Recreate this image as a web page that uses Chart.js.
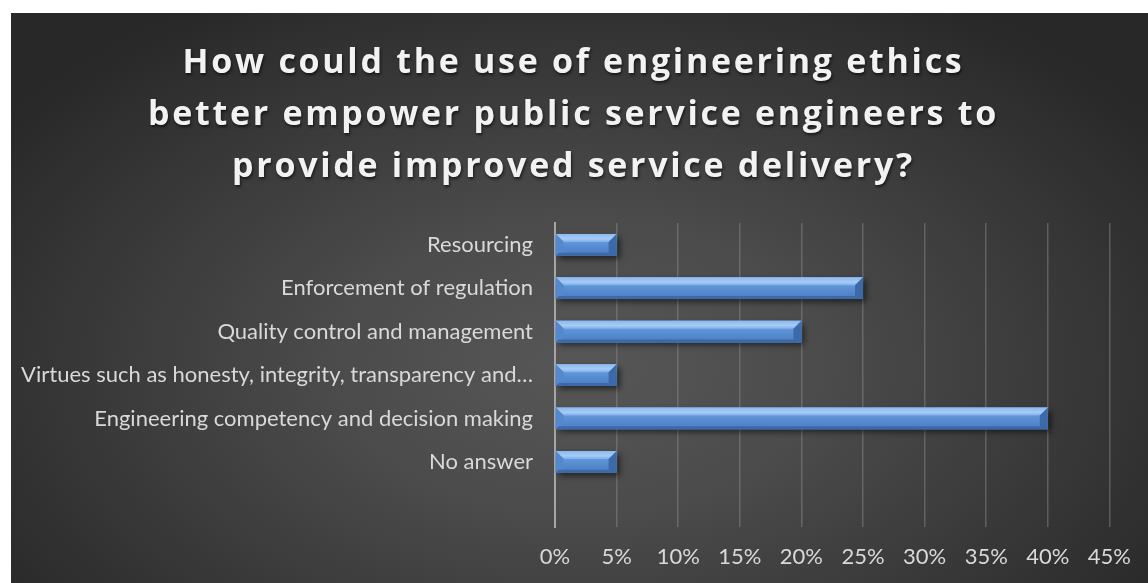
<!DOCTYPE html>
<html>
<head>
<meta charset="utf-8">
<script src="https://cdn.jsdelivr.net/npm/chart.js@4.4.0/dist/chart.umd.min.js"></script>
<style>
  html, body { margin: 0; padding: 0; background: #fff; }
  #wrap {
    position: absolute; left: 11px; top: 13px; width: 1137px; height: 570px;
    background: radial-gradient(ellipse 62% 75% at 50% 62%, #575757 0%, #4b4b4b 35%, #282828 100%);
  }
</style>
</head>
<body>
<div id="wrap"><canvas id="bar-chart" width="1137" height="570"></canvas></div>
<script>
// data
const categories = [
  'Resourcing',
  'Enforcement of regulation',
  'Quality control and management',
  'Virtues such as honesty, integrity, transparency and…',
  'Engineering competency and decision making',
  'No answer',
  ''
];
const shares = [0.05, 0.25, 0.20, 0.05, 0.40, 0.05, null];
const xTickLabels = ['0%', '5%', '10%', '15%', '20%', '25%', '30%', '35%', '40%', '45%'];

const titleLines = [
  'How could the use of engineering ethics',
  'better empower public service engineers to',
  'provide improved service delivery?'
];

const titleFont = { family: 'Open Sans', weight: 'bold', size: 34, lineHeight: 1.53 };

// title drawn by hand so it can have letter spacing and a soft shadow;
// the library's own title (transparent) keeps the space for it
const spacedTitle = {
  id: 'spacedTitle',
  afterDraw(chart) {
    const ctx = chart.ctx;
    const tb = chart.titleBlock;
    const lh = titleFont.size * titleFont.lineHeight;
    const cx = (tb.left + tb.right) / 2 + 12;
    ctx.save();
    ctx.font = 'bold ' + titleFont.size + 'px "Open Sans"';
    ctx.letterSpacing = '2.7px';
    ctx.textAlign = 'center';
    ctx.textBaseline = 'middle';
    ctx.fillStyle = '#f2f2f2';
    ctx.shadowColor = 'rgba(0,0,0,0.6)';
    ctx.shadowBlur = 3;
    ctx.shadowOffsetX = 1;
    ctx.shadowOffsetY = 2;
    titleLines.forEach((line, i) => {
      ctx.fillText(line, cx, tb.top + 21 + lh / 2 + i * lh + 3);
    });
    ctx.restore();
  }
};

// bevel look for the bars, drawn over the bars the library placed
const bevelBars = {
  id: 'bevelBars',
  beforeDatasetsDraw(chart) {
    const ctx = chart.ctx;
    ctx.save();
    ctx.shadowColor = 'rgba(0,0,0,0.55)';
    ctx.shadowBlur = 6;
    ctx.shadowOffsetX = 3;
    ctx.shadowOffsetY = 3;
  },
  afterDatasetsDraw(chart) {
    const ctx = chart.ctx;
    ctx.restore();
    const meta = chart.getDatasetMeta(0);
    meta.data.forEach((bar, i) => {
      if (shares[i] == null) return;
      const x0 = bar.base, x1 = bar.x;
      const y0 = bar.y - bar.height / 2, y1 = bar.y + bar.height / 2;
      const bt = 8, bb = 3, bs = 8;
      ctx.save();
      // face
      let g = ctx.createLinearGradient(0, y0, 0, y1);
      g.addColorStop(0, '#7fb0ea');
      g.addColorStop(0.45, '#5d92d6');
      g.addColorStop(1, '#4a7cc0');
      ctx.fillStyle = g;
      ctx.fillRect(x0, y0, x1 - x0, y1 - y0);
      // top bevel
      g = ctx.createLinearGradient(0, y0, 0, y0 + bt);
      g.addColorStop(0, '#8ab9ef');
      g.addColorStop(0.6, '#a6cbf5');
      g.addColorStop(1, '#7eaeea');
      ctx.fillStyle = g;
      ctx.beginPath();
      ctx.moveTo(x0, y0); ctx.lineTo(x1, y0); ctx.lineTo(x1 - bs, y0 + bt); ctx.lineTo(x0 + bs, y0 + bt);
      ctx.closePath(); ctx.fill();
      // left bevel
      ctx.fillStyle = '#5588cc';
      ctx.beginPath();
      ctx.moveTo(x0, y0); ctx.lineTo(x0 + bs, y0 + bt); ctx.lineTo(x0 + bs, y1 - bb); ctx.lineTo(x0, y1);
      ctx.closePath(); ctx.fill();
      // right bevel
      ctx.fillStyle = '#3c6aa8';
      ctx.beginPath();
      ctx.moveTo(x1, y0); ctx.lineTo(x1 - bs, y0 + bt); ctx.lineTo(x1 - bs, y1 - bb); ctx.lineTo(x1, y1);
      ctx.closePath(); ctx.fill();
      // bottom bevel
      ctx.fillStyle = '#3d69a6';
      ctx.beginPath();
      ctx.moveTo(x0, y1); ctx.lineTo(x1, y1); ctx.lineTo(x1 - bb, y1 - bb); ctx.lineTo(x0 + bb, y1 - bb);
      ctx.closePath(); ctx.fill();
      ctx.restore();
    });
  }
};

new Chart(document.getElementById('bar-chart'), {
  type: 'bar',
  data: {
    labels: categories,
    datasets: [{
      data: shares,
      backgroundColor: '#5587cb',
      borderWidth: 0,
      barPercentage: 0.5,
      categoryPercentage: 1
    }]
  },
  options: {
    indexAxis: 'y',
    responsive: false,
    animation: false,
    layout: { padding: { top: 0, right: 36, bottom: 13, left: 0 } },
    plugins: {
      legend: { display: false },
      tooltip: { enabled: false },
      title: {
        display: true,
        text: titleLines,
        color: 'rgba(0,0,0,0)',
        font: titleFont,
        padding: { top: 21, bottom: 33 }
      }
    },
    scales: {
      x: {
        min: 0,
        max: 0.45,
        afterFit: s => { s.height = 43; },
        ticks: {
          stepSize: 0.05,
          color: '#d9d9d9',
          padding: 17,
          maxRotation: 0,
          font: { family: 'Lato', size: 22 },
          callback: (v, i) => xTickLabels[i]
        },
        grid: { color: 'rgba(150,150,150,0.42)', lineWidth: 1.5, drawTicks: false },
        border: { display: false }
      },
      y: {
        afterFit: s => { s.width = 544; },
        ticks: {
          color: '#d9d9d9',
          padding: 22,
          font: { family: 'Lato', size: 22 },
          autoSkip: false
        },
        grid: { display: false, drawTicks: false },
        border: { display: true, color: '#a6a6a6', width: 2 }
      }
    }
  },
  plugins: [bevelBars, spacedTitle]
});
</script>
</body>
</html>
